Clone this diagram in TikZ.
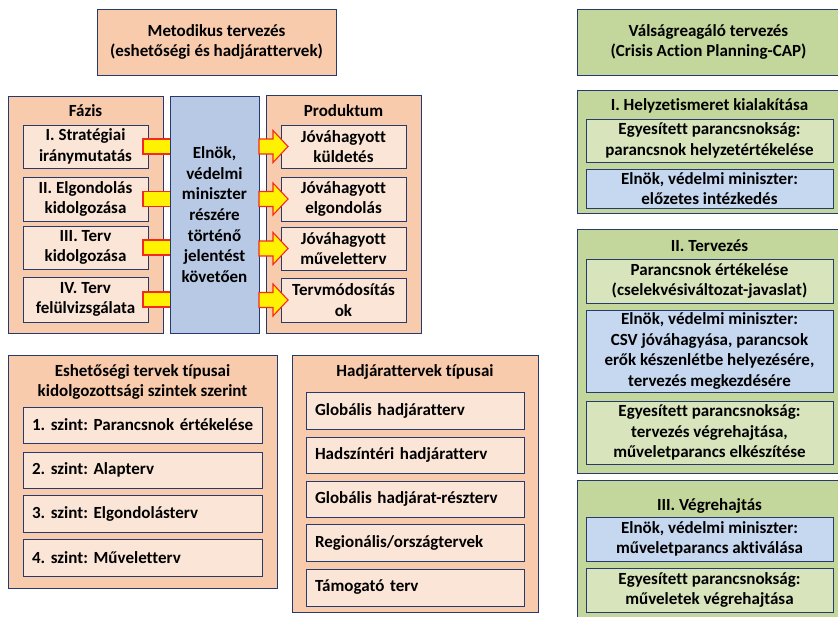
\documentclass[tikz,border=0pt]{standalone}
\usepackage{fontspec}
\setmainfont{Carlito}[Ligatures=CommonOff]
\frenchspacing
\usetikzlibrary{calc}
\definecolor{peach}{HTML}{F8CBAD}
\definecolor{lpeach}{HTML}{FBE5D6}
\definecolor{cblue}{HTML}{B7C9E5}
\definecolor{rblue}{HTML}{C6D7F0}
\definecolor{ogreen}{HTML}{C3D69B}
\definecolor{igreen}{HTML}{D8E4BC}
\definecolor{navy}{HTML}{263A6E}
\definecolor{ared}{HTML}{F52A1F}
\pgfdeclarelayer{front}
\pgfsetlayers{main,front}
\newcommand\bx[7]{\node[#6, minimum width={(#4-#2)*1pt}, minimum height={(#5-#3)*1pt}] (#1) at ({(#2+#4)/2},{(#3+#5)/2}) {#7};}
\newcommand\lbx[7]{\node[#6, minimum width={(#4-#2)*1pt}, minimum height={(#5-#3)*1pt}, text width={(#4-#2-18)*1pt}, align=left] (#1) at ({(#2+#4)/2},{(#3+#5)/2}) {\mbox{#7}};}
\newcommand\stub[2]{\draw[yarr] let \p1=(#1.east), \p2=(#2.west) in (\x1-5pt,\y1-7.5pt) rectangle (\x2+1pt,\y1+7.5pt);}
\newcommand\rarr[2]{\draw[yarr] let \p1=(#1.east), \p2=(#2.west) in (\x1,\y2-7.5pt) -- (\x2-8pt,\y2-7.5pt) -- (\x2-8pt,\y2-16pt) -- (\x2+7pt,\y2) -- (\x2-8pt,\y2+16pt) -- (\x2-8pt,\y2+7.5pt) -- (\x1,\y2+7.5pt) -- cycle;}
\begin{document}
\begin{tikzpicture}[x=1pt,y=-1pt,
  every node/.style={font=\fontsize{17}{20.6}\selectfont\bfseries\frenchspacing, inner sep=0pt, outer sep=0pt, align=center, text=black},
  base/.style={draw=navy, line width=0.9pt},
  outerp/.style={base, fill=peach},
  innerp/.style={base, fill=lpeach},
  centerb/.style={base, fill=cblue},
  outerg/.style={base, fill=ogreen},
  innerg/.style={base, fill=igreen},
  innerb/.style={base, fill=rblue},
  yarr/.style={fill=yellow, draw=ared, line width=1.1pt, line join=miter},
  hdr/.style={draw=none, fill=none}]
\useasboundingbox (0,0) rectangle (838,616);
% ---- Metodikus
\bx{mt}{97}{9}{336}{75}{outerp}{Metodikus tervezés\\(eshetőségi és hadjárattervek)}
\bx{fz}{8}{96}{163}{333}{outerp}{}
\node[hdr] (fzh) at (85.5,111) {Fázis};
\bx{pr}{266}{95}{421}{333}{outerp}{}
\node[hdr] (prh) at (343.5,111) {Produktum};
\bx{p1}{23}{125}{148}{168}{innerp}{I. Stratégiai\\iránymutatás}
\bx{p2}{23}{177}{148}{221}{innerp}{II. Elgondolás\\kidolgozása}
\bx{p3}{23}{226}{148}{269}{innerp}{III. Terv\\kidolgozása}
\bx{p4}{23}{277}{148}{322}{innerp}{IV. Terv\\felülvizsgálata}
\bx{k1}{281}{125}{406}{168}{innerp}{Jóváhagyott\\küldetés}
\bx{k2}{281}{177}{406}{221}{innerp}{Jóváhagyott\\elgondolás}
\bx{k3}{281}{227}{406}{270}{innerp}{Jóváhagyott\\műveletterv}
\bx{k4}{281}{278}{406}{322}{innerp}{Tervmódosítás\\ok}
\begin{pgfonlayer}{front}
\bx{ce}{170}{96}{259}{333}{centerb}{Elnök,\\védelmi\\miniszter\\részére\\történő\\jelentést\\követően}
\rarr{ce}{k1}
\rarr{ce}{k2}
\rarr{ce}{k3}
\rarr{ce}{k4}
\end{pgfonlayer}
\stub{p1}{ce}
\stub{p2}{ce}
\stub{p3}{ce}
\stub{p4}{ce}
% ---- Eshetőségi
\bx{es}{8}{355}{277}{588}{outerp}{}
\node[hdr] (esh) at (142.5,382) {Eshetőségi tervek típusai\\kidolgozottsági szintek szerint};
\lbx{e1}{23}{407}{262}{443}{innerp}{1. szint: Parancsnok értékelése}
\lbx{e2}{23}{452}{262}{488}{innerp}{2. szint: Alapterv}
\lbx{e3}{23}{495}{262}{532}{innerp}{3. szint: Elgondolásterv}
\lbx{e4}{23}{539}{262}{576}{innerp}{4. szint: Műveletterv}
% ---- Hadjárat
\bx{hj}{292}{355}{538}{612}{outerp}{}
\node[hdr] (hjh) at (415,372) {Hadjárattervek típusai};
\lbx{h1}{306}{392}{524}{429}{innerp}{Globális hadjáratterv}
\lbx{h2}{306}{437}{524}{473}{innerp}{Hadszíntéri hadjáratterv}
\lbx{h3}{306}{481}{524}{517}{innerp}{Globális hadjárat-részterv}
\lbx{h4}{306}{524}{524}{561}{innerp}{Regionális/országtervek}
\lbx{h5}{306}{569}{524}{606}{innerp}{Támogató terv}
% ---- Válságreagáló
\bx{vt}{577}{9}{840}{75}{outerg}{Válságreagáló tervezés\\(Crisis Action Planning-CAP)}
\bx{g1}{577}{90}{840}{213}{outerg}{}
\node[hdr] (g1h) at (709.5,106) {I. Helyzetismeret kialakítása};
\bx{g1a}{586}{119}{833}{162}{innerg}{Egyesített parancsnokság:\\parancsnok helyzetértékelése}
\bx{g1b}{586}{169}{833}{208}{innerb}{Elnök, védelmi miniszter:\\előzetes intézkedés}
\bx{g2}{577}{229}{840}{473}{outerg}{}
\node[hdr] (g2h) at (709.5,246) {II. Tervezés};
\bx{g2a}{586}{259}{833}{303}{innerg}{Parancsnok értékelése\\(cselekvésiváltozat-javaslat)}
\bx{g2b}{586}{310}{833}{392}{innerb}{Elnök, védelmi miniszter:\\CSV jóváhagyása, parancsok\\erők készenlétbe helyezésére,\\tervezés megkezdésére}
\bx{g2c}{586}{401}{833}{464}{innerg}{Egyesített parancsnokság:\\tervezés végrehajtása,\\műveletparancs elkészítése}
\bx{g3}{577}{480}{840}{622}{outerg}{}
\node[hdr] (g3h) at (709.5,506) {III. Végrehajtás};
\bx{g3a}{586}{517}{833}{561}{innerb}{Elnök, védelmi miniszter:\\műveletparancs aktiválása}
\bx{g3b}{586}{568}{833}{612}{innerg}{Egyesített parancsnokság:\\műveletek végrehajtása}
\end{tikzpicture}
\end{document}
